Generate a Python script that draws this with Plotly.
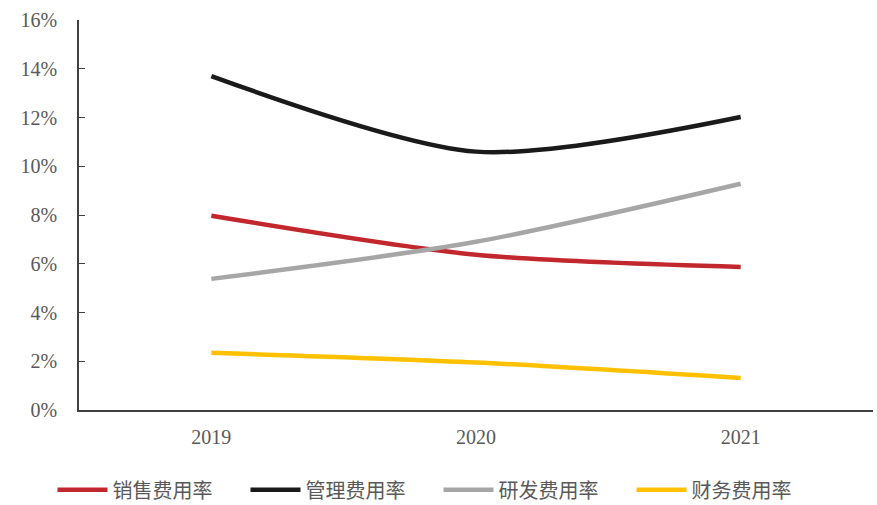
import plotly.graph_objects as go

years = ["2019", "2020", "2021"]
sales_rate = [0.0797, 0.0637, 0.0587]
admin_rate = [0.1370, 0.1060, 0.1202]
rd_rate = [0.0538, 0.0690, 0.0928]
fin_rate = [0.0235, 0.0195, 0.0131]
series_names = ["销售费用率", "管理费用率", "研发费用率", "财务费用率"]
colors = ["#C1272D", "#1A1A1A", "#A6A6A6", "#FFC000"]
y_ticks = [0, 0.02, 0.04, 0.06, 0.08, 0.10, 0.12, 0.14, 0.16]

fig = go.Figure()
for name, vals, c in zip(series_names, [sales_rate, admin_rate, rd_rate, fin_rate], colors):
    fig.add_trace(go.Scatter(x=years, y=vals, name=name, mode="lines",
                             line=dict(color=c, width=4.5, shape="spline", smoothing=0.8)))

fig.update_layout(
    width=877, height=505,
    margin=dict(l=79, r=4, t=20, b=95, autoexpand=False),
    plot_bgcolor="white", paper_bgcolor="white",
    font=dict(family="Liberation Serif", color="#595959", size=20),
    showlegend=True,
    legend=dict(orientation="h", x=0.5, xanchor="center", xref="container",
                y=0.03, yanchor="middle", yref="container",
                font=dict(family="Noto Sans CJK SC", size=20, color="#595959"),
                itemwidth=50, entrywidth=128, traceorder="normal"),
)
fig.update_xaxes(type="category", range=[-0.5, 2.5], showline=True, linecolor="#404040",
                 linewidth=1.5, ticks="", showgrid=False, ticklabelstandoff=8,
                 tickfont=dict(family="Liberation Serif", size=20, color="#595959"))
fig.update_yaxes(range=[0, 0.16], tickvals=y_ticks, tickformat=".0%", showline=True,
                 linecolor="#404040", linewidth=1.5, ticks="inside", ticklen=6,
                 tickcolor="#404040", showgrid=False, zeroline=False, ticklabelstandoff=16,
                 tickfont=dict(family="Liberation Serif", size=20, color="#595959"))

fig.write_html("out.html")
